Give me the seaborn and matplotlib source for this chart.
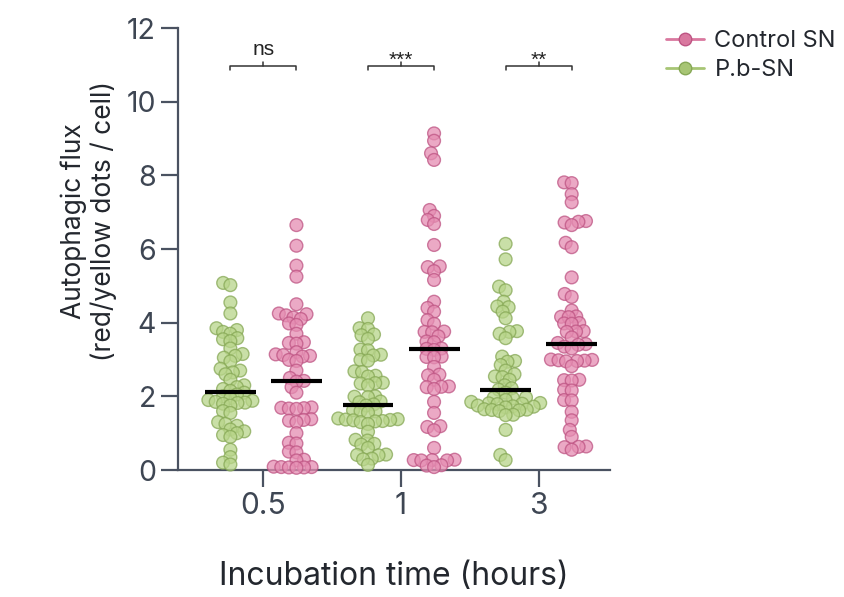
import numpy as np
import pandas as pd
import matplotlib
matplotlib.use("Agg")
import matplotlib.pyplot as plt
from matplotlib.lines import Line2D
import seaborn as sns

# ---- data: autophagic flux per cell, by incubation time and treatment ----
times = ["0.5", "1", "3"]
groups = ["P.b-SN", "Control SN"]

pb_05 = [5.08, 5.02, 4.55, 4.25, 3.85, 3.8, 3.75, 3.7, 3.58, 3.55, 3.5, 3.3, 3.15,
         3.1, 3.05, 2.95, 2.75, 2.7, 2.65, 2.6, 2.45, 2.3, 2.25, 2.2, 2.15, 2.1,
         2.05, 2.0, 1.95, 1.9, 1.88, 1.85, 1.83, 1.82, 1.8, 1.75, 1.6, 1.55, 1.3,
         1.25, 1.2, 1.1, 1.05, 1.0, 0.95, 0.9, 0.55, 0.35, 0.2, 0.15]
ctl_05 = [6.65, 6.09, 5.55, 5.25, 4.5, 4.25, 4.23, 4.2, 4.14, 4.1, 3.98, 3.94, 3.7,
          3.47, 3.45, 3.43, 3.2, 3.14, 3.12, 3.1, 3.08, 2.99, 2.96, 2.7, 2.5, 2.42,
          2.4, 2.25, 2.1, 1.7, 1.69, 1.68, 1.67, 1.66, 1.38, 1.36, 1.34, 1.3, 1.0,
          0.74, 0.72, 0.5, 0.48, 0.28, 0.26, 0.09, 0.08, 0.08, 0.07, 0.07, 0.06]
pb_1 = [4.12, 3.85, 3.83, 3.68, 3.66, 3.56, 3.27, 3.25, 3.13, 3.11, 2.99, 2.97,
        2.68, 2.66, 2.56, 2.54, 2.37, 2.36, 2.35, 2.3, 2.0, 1.99, 1.98, 1.86, 1.84,
        1.78, 1.75, 1.62, 1.6, 1.59, 1.56, 1.4, 1.38, 1.37, 1.36, 1.35, 1.33, 1.32,
        1.3, 1.25, 1.04, 0.82, 0.8, 0.71, 0.69, 0.6, 0.42, 0.41, 0.4, 0.31, 0.29,
        0.14]
ctl_1 = [9.14, 8.94, 8.6, 8.42, 7.06, 6.9, 6.79, 6.68, 6.11, 5.53, 5.51, 5.4, 5.16,
         4.57, 4.4, 4.3, 4.07, 3.97, 3.76, 3.75, 3.74, 3.63, 3.49, 3.47, 3.3, 3.29,
         3.26, 3.08, 3.07, 3.06, 2.8, 2.59, 2.57, 2.45, 2.27, 2.26, 2.25, 2.2, 1.85,
         1.55, 1.19, 1.17, 1.08, 0.6, 0.28, 0.27, 0.27, 0.26, 0.26, 0.13, 0.12, 0.08]
pb_3 = [6.14, 5.72, 4.98, 4.88, 4.57, 4.44, 4.42, 4.3, 4.12, 3.77, 3.75, 3.7, 3.58,
        3.08, 2.96, 2.94, 2.85, 2.7, 2.6, 2.54, 2.52, 2.45, 2.3, 2.22, 2.18, 2.1,
        1.97, 1.96, 1.95, 1.9, 1.85, 1.82, 1.81, 1.8, 1.79, 1.75, 1.73, 1.72, 1.7,
        1.65, 1.64, 1.63, 1.62, 1.6, 1.5, 1.49, 1.09, 0.41, 0.27]
ctl_3 = [7.81, 7.79, 7.49, 7.27, 6.76, 6.74, 6.72, 6.65, 6.17, 6.05, 5.23, 4.78, 4.7,
         4.33, 4.17, 4.16, 4.15, 3.99, 3.98, 3.97, 3.77, 3.76, 3.75, 3.6, 3.45, 3.42,
         3.4, 3.35, 3.3, 3.0, 2.99, 2.98, 2.97, 2.96, 2.95, 2.82, 2.45, 2.44, 2.43,
         2.18, 2.16, 1.9, 1.89, 1.58, 1.35, 1.09, 0.9, 0.64, 0.63, 0.62, 0.55]

significance = ["ns", "***", "**"]

series = {
    ("0.5", "P.b-SN"): pb_05, ("0.5", "Control SN"): ctl_05,
    ("1", "P.b-SN"): pb_1, ("1", "Control SN"): ctl_1,
    ("3", "P.b-SN"): pb_3, ("3", "Control SN"): ctl_3,
}
rows = [(t, g, v) for (t, g), vals in series.items() for v in vals]
df = pd.DataFrame(rows, columns=["time", "group", "flux"])

# ---- style ----
sns.set_style("ticks")
plt.rcParams["font.family"] = ["Inter", "DejaVu Sans"]

face = {"P.b-SN": "#b8d58a", "Control SN": "#e58db2"}
edge = {"P.b-SN": "#86a855", "Control SN": "#be5483"}
legend_face = {"P.b-SN": "#a7c574", "Control SN": "#d9789f"}
axis_col = "#4a5261"
tick_col = "#3e4653"
label_col = "#23272e"

fig = plt.figure(figsize=(8.44, 5.97), dpi=100)
ax = fig.add_axes([0.211, 0.2127, 0.512, 0.7403])

sns.swarmplot(data=df, x="time", y="flux", hue="group", order=times,
              hue_order=groups, dodge=True, size=4.2,
              palette=face, linewidth=1.0, alpha=0.75, legend=False, ax=ax)

ax.set_xlim(-0.62, 2.52)
ax.set_ylim(0, 12)
ax.set_yticks(np.arange(0, 13, 2))

# lay the swarm out at a compact size, then draw the markers larger so they
# overlap, and spread the two treatments a little further apart
fig.canvas.draw()
spread = 0.04
face_rgb = {g: np.array(matplotlib.colors.to_rgb(c)) for g, c in face.items()}
for coll in ax.collections:
    if "draw" in coll.__dict__:
        del coll.draw
    fc = coll.get_facecolor()
    if len(fc):
        g = min(groups, key=lambda k: np.abs(fc[0][:3] - face_rgb[k]).sum())
        coll.set_edgecolor(matplotlib.colors.to_rgba(edge[g], 0.75))
        xy = coll.get_offsets().copy()
        xy[:, 0] += spread if g == "Control SN" else -spread
        coll.set_offsets(xy)
    coll.set_sizes([9.2 ** 2])
    coll.set_clip_on(False)

# median bars
offset = 0.2 + spread
for i, t in enumerate(times):
    for j, g in enumerate(groups):
        xc = i + (offset if j else -offset)
        med = np.median(series[(t, g)])
        ax.hlines(med, xc - 0.185, xc + 0.185, color="black", lw=3, zorder=5)

# significance brackets
br_y, drop = 10.97, 0.12
for i, lab in enumerate(significance):
    x0, x1 = i - offset, i + offset
    ax.plot([x0, x0, x1, x1], [br_y - drop, br_y, br_y, br_y - drop],
            color="#333333", lw=1.1, clip_on=False, zorder=6)
    ax.plot([i, i], [br_y, br_y + drop], color="#333333", lw=1.1, zorder=6)
    if lab == "ns":
        ax.text(i, br_y + 0.2, lab, ha="center", va="bottom", fontsize=15,
                family=["Liberation Sans", "DejaVu Sans"], color="#222222")
    else:
        ax.text(i, br_y - 0.1, lab, ha="center", va="bottom", fontsize=15,
                family=["Liberation Sans", "DejaVu Sans"], color="#222222")

# axes styling
for side in ["top", "right"]:
    ax.spines[side].set_visible(False)
for side in ["left", "bottom"]:
    ax.spines[side].set_color(axis_col)
    ax.spines[side].set_linewidth(1.6)
ax.tick_params(axis="both", direction="out", length=12, width=1.6,
               color=axis_col, labelcolor=tick_col, labelsize=20.5)
ax.tick_params(axis="x", labelsize=21.5, pad=4)
ax.tick_params(axis="y", pad=4)

ax.set_xlabel("Incubation time (hours)", fontsize=23, color=label_col, labelpad=29)
ax.set_ylabel("Autophagic flux\n(red/yellow dots / cell)", fontsize=19,
              color=label_col, linespacing=1.2)
ax.yaxis.set_label_coords(-0.141, 0.563)

handles = [Line2D([0], [0], color=legend_face[g], lw=2, marker="o", markersize=9,
                  markerfacecolor=legend_face[g], markeredgecolor=edge[g])
           for g in ["Control SN", "P.b-SN"]]
fig.legend(handles, ["Control SN", "P.b-SN"], loc="upper left",
           bbox_to_anchor=(0.764, 0.985), frameon=False, fontsize=17,
           handlelength=1.6, handletextpad=0.45, labelspacing=0.3,
           labelcolor=label_col)

fig.savefig("out.png", dpi=100)
